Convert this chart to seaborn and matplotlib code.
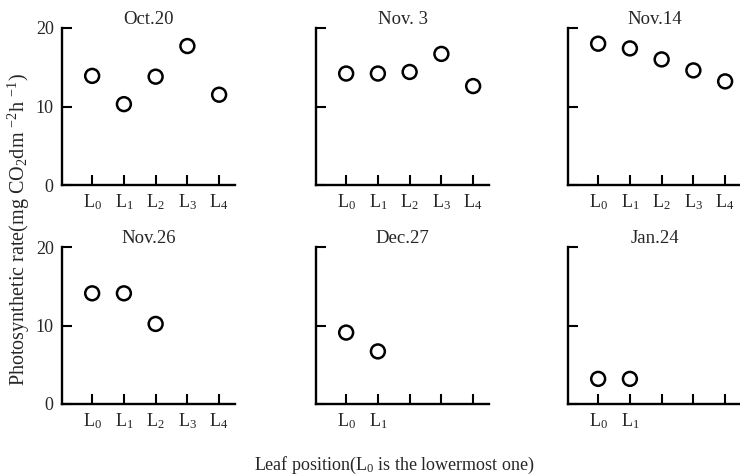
import matplotlib
matplotlib.use("Agg")
import matplotlib.pyplot as plt
import seaborn as sns
import pandas as pd

positions = ["L0", "L1", "L2", "L3", "L4"]
tick_text = ["L$_0$", "L$_1$", "L$_2$", "L$_3$", "L$_4$"]
dates = ["Oct.20", "Nov. 3", "Nov.14", "Nov.26", "Dec.27", "Jan.24"]
oct20 = [13.9, 10.3, 13.8, 17.7, 11.5]
nov3 = [14.2, 14.2, 14.4, 16.7, 12.6]
nov14 = [18.0, 17.4, 16.0, 14.6, 13.2]
nov26 = [14.1, 14.1, 10.2]
dec27 = [9.1, 6.7]
jan24 = [3.2, 3.2]
series = [oct20, nov3, nov14, nov26, dec27, jan24]
n_labels = [5, 5, 5, 5, 2, 2]
y_ticks = [0, 10, 20]

sns.set_theme(style="ticks")
plt.rcParams["font.family"] = ["Liberation Serif", "DejaVu Serif"]
plt.rcParams["mathtext.fontset"] = "custom"
plt.rcParams["mathtext.rm"] = "Liberation Serif"
plt.rcParams["mathtext.it"] = "Liberation Serif:italic"

fig = plt.figure(figsize=(7.4, 4.75), dpi=100)
W, H = 740, 475
lefts = [62, 316, 568]
tops = [28, 247]
aw, ah = 173, 157

for i, (date, vals) in enumerate(zip(dates, series)):
    r, c = divmod(i, 3)
    left = lefts[c]
    top = tops[r]
    ax = fig.add_axes([left / W, 1 - (top + ah) / H, aw / W, ah / H])
    df = pd.DataFrame({"x": list(range(len(vals))), "y": vals})
    sns.scatterplot(data=df, x="x", y="y", ax=ax, marker="o", s=100,
                    facecolors="none", edgecolor="black", linewidth=1.8,
                    clip_on=False, legend=False)
    ax.set_xlim(-0.95, 4.5)
    ax.set_ylim(0, 20)
    ax.set_xticks(range(len(positions)))
    labs = [t if k < n_labels[i] else "" for k, t in enumerate(tick_text)]
    ax.set_xticklabels(labs, fontsize=13)
    ax.set_yticks(y_ticks)
    if c == 0:
        ax.set_yticklabels([str(v) for v in y_ticks], fontsize=13)
    else:
        ax.set_yticklabels([])
    ax.tick_params(direction="in", length=7, width=1.5, color="black")
    ax.tick_params(axis="x", pad=5)
    ax.tick_params(axis="y", pad=6)
    for s in ["left", "bottom"]:
        ax.spines[s].set_linewidth(1.7)
        ax.spines[s].set_color("black")
    for s in ["top", "right"]:
        ax.spines[s].set_visible(False)
    ax.set_xlabel("")
    ax.set_ylabel("")
    ax.set_title(date, fontsize=13.5, pad=1)

fig.text(19 / W, 1 - 230 / H,
         "Photosynthetic rate(mg CO$_2$dm $^{-2}$h $^{-1}$)",
         rotation=90, ha="center", va="center", fontsize=14.5)
fig.text(394 / W, 1 - 465 / H, "Leaf position(L$_0$ is the lowermost one)",
         ha="center", va="center", fontsize=13)

fig.savefig("out.png", dpi=100)
